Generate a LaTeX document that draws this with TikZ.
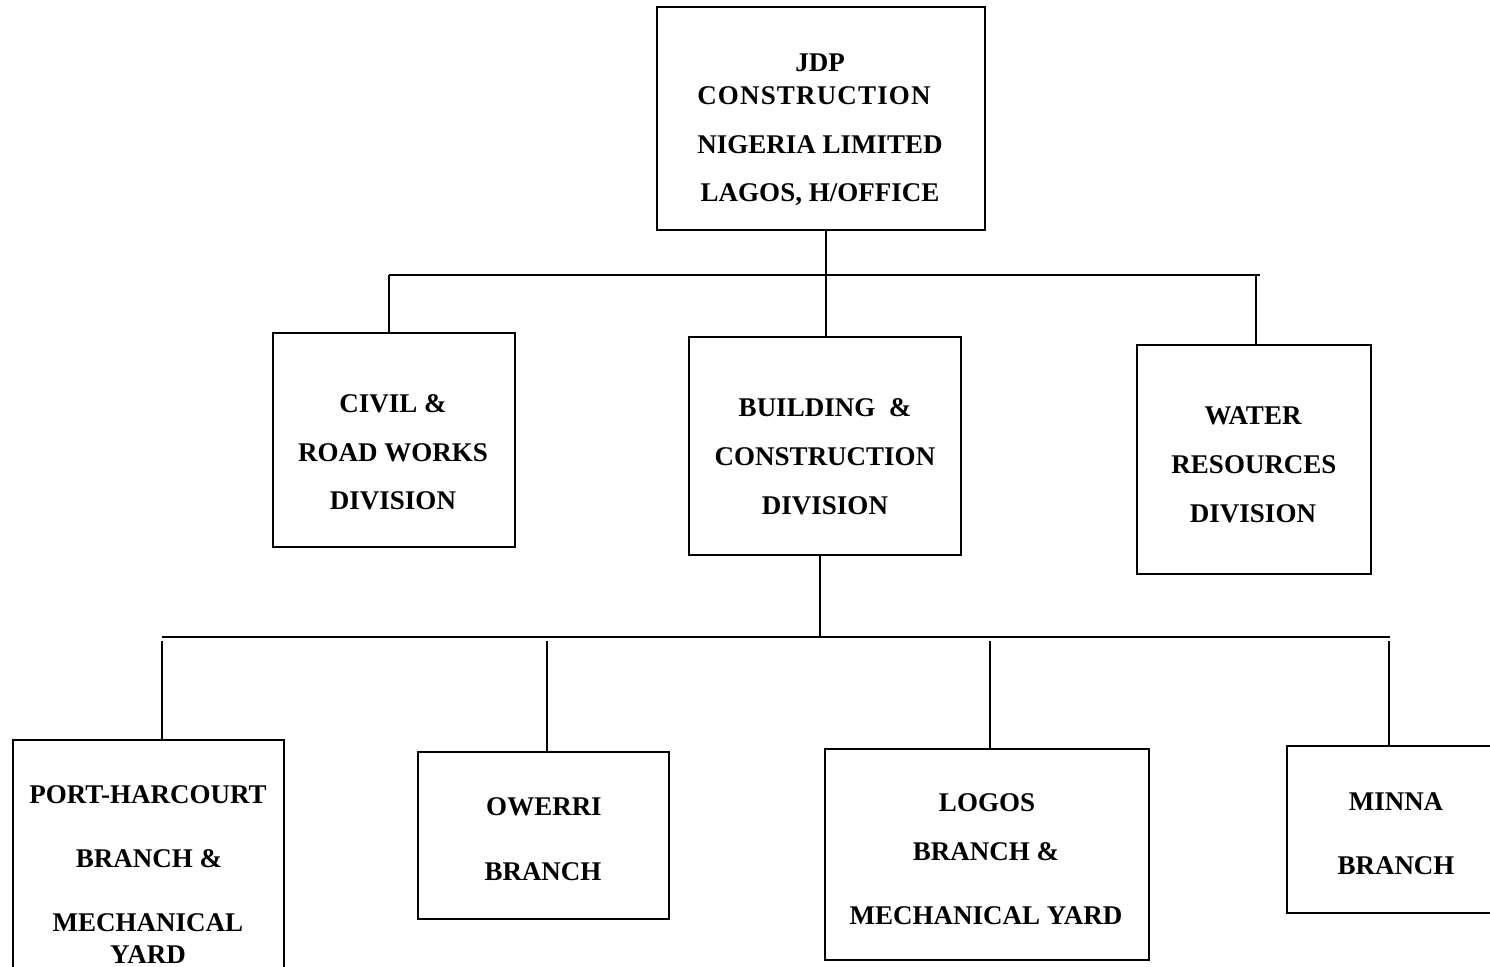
\documentclass[tikz,border=0pt]{standalone}
\usepackage{fontspec}
\setmainfont{Liberation Serif}
\newfontfamily\widefont[LetterSpace=4.3]{Liberation Serif}
\begin{document}
\begin{tikzpicture}[x=0.5pt,y=-0.5pt,
  box/.style={draw,line width=0.8pt,inner sep=0pt},
  lbl/.style={anchor=base,inner sep=0pt,font=\fontsize{13.5}{16}\selectfont\bfseries},
  conn/.style={line width=0.8pt}]
\useasboundingbox (0,0) rectangle (1490,966);
% boxes
\node[box,minimum width=164pt,minimum height=111.5pt] (top) at (821,118.5) {};
\node[box,minimum width=121pt,minimum height=107pt] (civ) at (394,440) {};
\node[box,minimum width=136pt,minimum height=109pt] (bld) at (825,446) {};
\node[box,minimum width=117pt,minimum height=114.5pt] (wat) at (1254,459.5) {};
\node[box,minimum width=135.5pt,minimum height=125pt] (por) at (148.5,865) {};
\node[box,minimum width=125.5pt,minimum height=83.5pt] (owe) at (543.5,835.5) {};
\node[box,minimum width=162pt,minimum height=105.5pt] (log) at (987,854.5) {};
\node[box,minimum width=116.5pt,minimum height=83.5pt] (min) at (1403.5,829.5) {};
% labels
\node[lbl] (top1) at (820,71) {JDP};
\node[lbl,font=\fontsize{13.5}{16}\widefont\bfseries] (top2) at (814,104) {CONSTRUCTION};
\node[lbl] (top3) at (820,153) {NIGERIA LIMITED};
\node[lbl] (top4) at (820,201) {LAGOS, H/OFFICE};
\node[lbl] (civ1) at (393,412) {CIVIL \&};
\node[lbl] (civ2) at (393,461) {ROAD WORKS};
\node[lbl] (civ3) at (393,509) {DIVISION};
\node[lbl] (bld1) at (825,416) {BUILDING \ \&};
\node[lbl] (bld2) at (825,465) {CONSTRUCTION};
\node[lbl] (bld3) at (825,514) {DIVISION};
\node[lbl] (wat1) at (1253,424) {WATER};
\node[lbl] (wat2) at (1254,473) {RESOURCES};
\node[lbl] (wat3) at (1253,522) {DIVISION};
\node[lbl] (por1) at (148,803) {PORT-HARCOURT};
\node[lbl] (por2) at (149,867) {BRANCH \&};
\node[lbl] (por3) at (148,931) {MECHANICAL};
\node[lbl] (por4) at (148,963) {YARD};
\node[lbl] (owe1) at (544,815) {OWERRI};
\node[lbl] (owe2) at (543,880) {BRANCH};
\node[lbl] (log1) at (987,811) {LOGOS};
\node[lbl] (log2) at (986,860) {BRANCH \&};
\node[lbl] (log3) at (986,924) {MECHANICAL YARD};
\node[lbl] (min1) at (1396,810) {MINNA};
\node[lbl] (min2) at (1396,874) {BRANCH};
% bus coordinates
\coordinate (b1m) at (826,275);
\coordinate (b1l) at (389,275);
\coordinate (b1r) at (1260,275);
\coordinate (b1w) at (1256,275);
\coordinate (b2m) at (820,637);
\coordinate (b2l) at (162,637);
\coordinate (b2r) at (1390,637);
\coordinate (g2o) at (547,641);
\coordinate (g2g) at (990,641);
\coordinate (g2p) at (162,641);
\coordinate (g2n) at (1389,641);
% connectors
\draw[conn] (top.south -| b1m) -- (b1m);
\draw[conn] (b1l) -- (b1r);
\draw[conn] (b1l) -- (civ.north -| b1l);
\draw[conn] (b1m) -- (bld.north -| b1m);
\draw[conn] (b1w) -- (wat.north -| b1w);
\draw[conn] (bld.south -| b2m) -- (b2m);
\draw[conn] (b2l) -- (b2r);
\draw[conn] (g2p) -- (por.north -| g2p);
\draw[conn] (g2o) -- (owe.north -| g2o);
\draw[conn] (g2g) -- (log.north -| g2g);
\draw[conn] (g2n) -- (min.north -| g2n);
\end{tikzpicture}
\end{document}
